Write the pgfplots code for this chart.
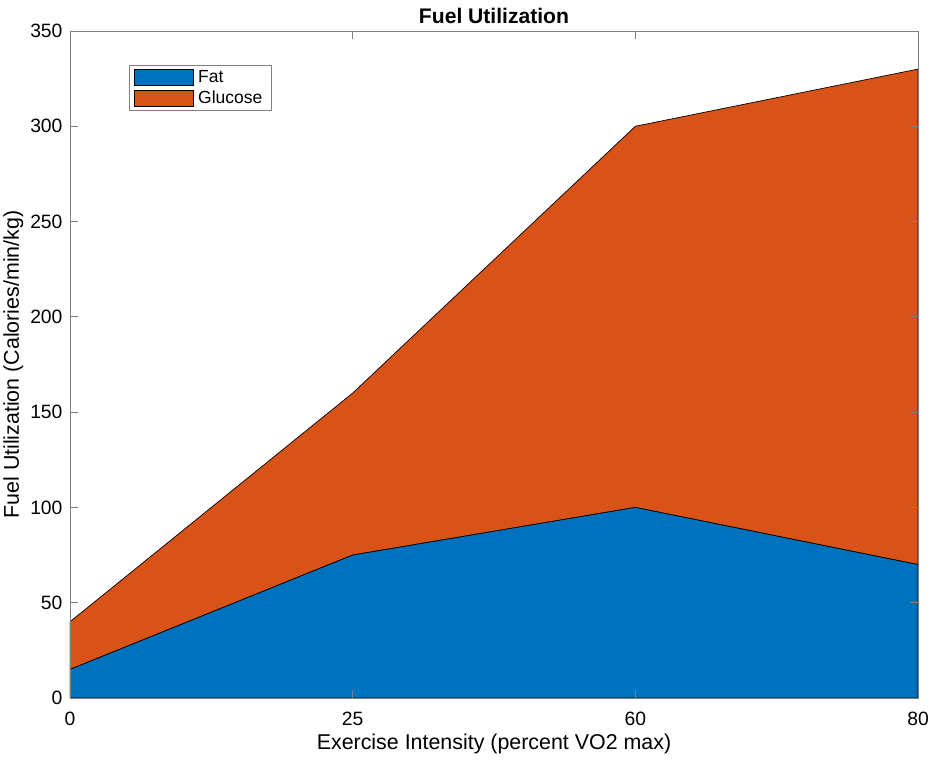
\documentclass[border=0pt]{standalone}
\usepackage{pgfplots}
\pgfplotsset{compat=1.18}
\usepackage{fontspec}
\setmainfont{Liberation Sans}
\definecolor{mblue}{HTML}{0072BD}
\definecolor{morange}{HTML}{D95319}
\definecolor{axgray}{HTML}{808080}
\begin{document}
\begin{tikzpicture}
\begin{axis}[
  scale only axis,
  width=848pt, height=667pt,
  xmin=0, xmax=3, ymin=0, ymax=350,
  xtick={0,1,2,3}, xticklabels={0,25,60,80},
  ytick={0,50,...,350},
  tick align=inside,
  major tick length=8pt,
  axis line style={axgray, line width=0.9pt},
  tick style={axgray, line width=0.9pt},
  tick label style={font=\fontsize{19.3}{22}\selectfont},
  label style={font=\fontsize{21.4}{24}\selectfont},
  /pgf/number format/assume math mode=true,
  xticklabel style={yshift=-10pt},
  yticklabel style={xshift=-4pt},
  title={\fontsize{21.1}{24}\selectfont\bfseries Fuel Utilization},
  title style={yshift=-2pt},
  xlabel={Exercise Intensity (percent VO2 max)},
  ylabel={Fuel Utilization (Calories/min/kg)},
  xlabel style={yshift=-2pt},
  ylabel style={yshift=0pt},
  stack plots=y,
  area style,
  legend style={at={(0.0696,0.949)}, anchor=north west, draw=axgray, line width=0.9pt,
    font=\fontsize{17.5}{20}\selectfont, inner xsep=5pt, inner ysep=3pt, row sep=3pt,
    cells={anchor=west}, nodes={inner xsep=4pt}},
  legend image code/.code={\draw[#1, draw=black, line width=0.7pt] (0pt,-8pt) rectangle (59pt,8pt);},
  axis on top,
]
\addplot[fill=mblue, draw=black, line width=0.7pt] coordinates {(0,15) (1,75) (2,100) (3,70)} \closedcycle;
\addlegendentry{Fat}
\addplot[fill=morange, draw=black, line width=0.7pt] coordinates {(0,25) (1,85) (2,200) (3,260)} \closedcycle;
\addlegendentry{Glucose}
\end{axis}
\path (current axis.south west) ++(-70pt,-66pt);
\path (current axis.north east) ++(17pt,31pt);
\end{tikzpicture}
\end{document}
